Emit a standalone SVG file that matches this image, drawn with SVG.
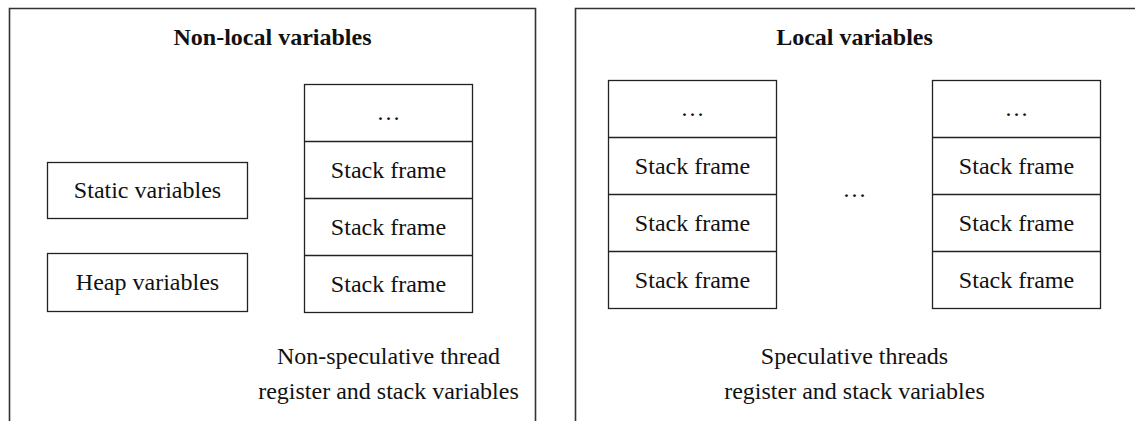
<svg xmlns="http://www.w3.org/2000/svg" width="1135" height="421" viewBox="0 0 1135 421" font-family="'Liberation Serif', 'Times New Roman', Times, 'DejaVu Serif', serif">
  <style>
    .panel { fill: none; stroke: #333; stroke-width: 1.6; }
    .box { fill: #fff; stroke: #222; stroke-width: 1.3; }
    .sep { stroke: #222; stroke-width: 1.3; }
    text { font-family: 'Liberation Serif', 'Times New Roman', Times, 'DejaVu Serif', serif; font-size: 24px; fill: #111; text-anchor: middle; }
    .title { font-weight: bold; }
  </style>
  <rect width="1135" height="421" fill="#fff"/>

  <!-- Panel: non-local variables (open at the bottom) -->
  <g id="panel-nonlocal">
    <path class="panel" d="M9.5 421 V8.5 H535.5 V421"/>
    <text class="title" x="272.5" y="45">Non-local variables</text>
  </g>

  <!-- Panel: local variables (open to the right and bottom) -->
  <g id="panel-local">
    <path class="panel" d="M575.5 421 V8.5 H1135"/>
    <text class="title" x="854.5" y="45">Local variables</text>
  </g>

  <g id="static-vars">
    <rect class="box" x="47.5" y="162.5" width="200" height="56"/>
    <text x="147.5" y="198">Static variables</text>
  </g>

  <g id="heap-vars">
    <rect class="box" x="47.5" y="253.5" width="200" height="58"/>
    <text x="147.5" y="290">Heap variables</text>
  </g>

  <!-- Stack of the non-speculative thread -->
  <g id="stack-main">
    <rect class="box" x="304.5" y="84.5" width="168" height="228"/>
    <line class="sep" x1="304.5" y1="141.5" x2="472.5" y2="141.5"/>
    <line class="sep" x1="304.5" y1="198.5" x2="472.5" y2="198.5"/>
    <line class="sep" x1="304.5" y1="255.5" x2="472.5" y2="255.5"/>
    <text x="388.5" y="120">…</text>
    <text x="388.5" y="178">Stack frame</text>
    <text x="388.5" y="235">Stack frame</text>
    <text x="388.5" y="292">Stack frame</text>
  </g>

  <g id="caption-main">
    <text x="388.5" y="364">Non-speculative thread</text>
    <text x="388.5" y="399">register and stack variables</text>
  </g>

  <!-- Stacks of the speculative threads -->
  <g id="stack-spec-1">
    <rect class="box" x="608.5" y="80.5" width="168" height="228"/>
    <line class="sep" x1="608.5" y1="137.5" x2="776.5" y2="137.5"/>
    <line class="sep" x1="608.5" y1="194.5" x2="776.5" y2="194.5"/>
    <line class="sep" x1="608.5" y1="251.5" x2="776.5" y2="251.5"/>
    <text x="692.5" y="116">…</text>
    <text x="692.5" y="174">Stack frame</text>
    <text x="692.5" y="231">Stack frame</text>
    <text x="692.5" y="288">Stack frame</text>
  </g>

  <g id="spec-gap">
    <text x="854.5" y="197">…</text>
  </g>

  <g id="stack-spec-n">
    <rect class="box" x="932.5" y="80.5" width="168" height="228"/>
    <line class="sep" x1="932.5" y1="137.5" x2="1100.5" y2="137.5"/>
    <line class="sep" x1="932.5" y1="194.5" x2="1100.5" y2="194.5"/>
    <line class="sep" x1="932.5" y1="251.5" x2="1100.5" y2="251.5"/>
    <text x="1016.5" y="116">…</text>
    <text x="1016.5" y="174">Stack frame</text>
    <text x="1016.5" y="231">Stack frame</text>
    <text x="1016.5" y="288">Stack frame</text>
  </g>

  <g id="caption-spec">
    <text x="854.5" y="364">Speculative threads</text>
    <text x="854.5" y="399">register and stack variables</text>
  </g>

  <!-- No connectors in this figure -->
  <g id="connectors"></g>
</svg>
